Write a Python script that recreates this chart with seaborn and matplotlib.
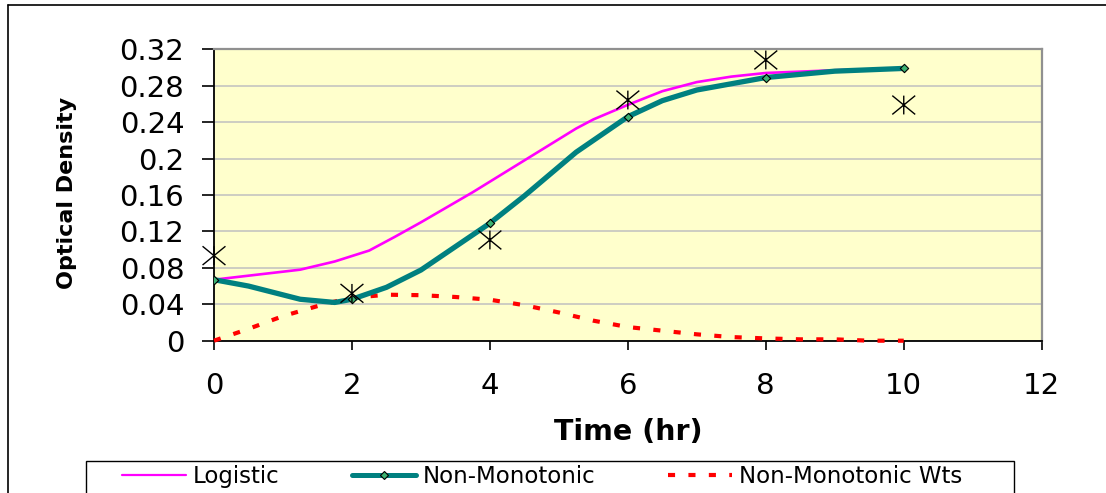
import numpy as np
import pandas as pd
import matplotlib
matplotlib.use("Agg")
import matplotlib.pyplot as plt
from matplotlib.path import Path
from matplotlib.lines import Line2D
from matplotlib.patches import Rectangle
import seaborn as sns

# ---------------- data ----------------
logistic_time = [0, 1.25, 1.75, 2, 2.25, 2.62, 3, 3.75, 4.5, 5.25, 5.5, 6, 6.5, 7, 7.5, 8, 9, 10]
logistic_od = [0.067, 0.078, 0.087, 0.093, 0.099, 0.114, 0.130, 0.163, 0.198, 0.233, 0.243,
               0.259, 0.274, 0.284, 0.290, 0.294, 0.297, 0.299]

nonmono_time = [0, 0.5, 1.25, 1.75, 2, 2.5, 3, 4, 4.5, 5.25, 6, 6.5, 7, 8, 9, 10]
nonmono_od = [0.067, 0.060, 0.0455, 0.042, 0.0455, 0.0586, 0.0776, 0.129, 0.159, 0.207,
              0.246, 0.2636, 0.2753, 0.289, 0.296, 0.299]

wts_time = [0, 0.5, 1, 1.5, 1.75, 2, 2.5, 3, 3.5, 4, 4.5, 5, 5.5, 6, 6.5, 7, 7.5, 8, 8.5, 9, 9.5, 10]
wts_value = [0, 0.013, 0.027, 0.038, 0.043, 0.047, 0.0505, 0.050, 0.048, 0.045, 0.039, 0.031,
             0.022, 0.015, 0.011, 0.007, 0.004, 0.0025, 0.0015, 0.0015, 0.0, 0.0]

obs_time = [0, 2, 4, 6, 8, 10]
obs_od = [0.0934, 0.052, 0.1106, 0.2643, 0.3083, 0.2588]

x_ticks = [0, 2, 4, 6, 8, 10, 12]
y_ticks = [0, 0.04, 0.08, 0.12, 0.16, 0.2, 0.24, 0.28, 0.32]
y_tick_labels = ["0", "0.04", "0.08", "0.12", "0.16", "0.2", "0.24", "0.28", "0.32"]
series_names = ["Logistic", "Non-Monotonic", "Non-Monotonic Wts"]

# ---------------- style ----------------
sns.set_theme(style="white")
plt.rcParams["font.family"] = ["DejaVu Sans"]

W, H = 1106, 493
fig = plt.figure(figsize=(W / 100, H / 100), dpi=100)
ax = fig.add_axes([214 / W, 1 - 340.7 / H, 827.7 / W, 291.4 / H])
ax.set_facecolor("#FFFFCC")

MAGENTA = "#FF00FF"
TEAL = "#008080"
RED = "#FF0000"

log_df = pd.DataFrame({"t": logistic_time, "od": logistic_od})
nm_df = pd.DataFrame({"t": nonmono_time, "od": nonmono_od})
w_df = pd.DataFrame({"t": wts_time, "v": wts_value})
obs_df = pd.DataFrame({"t": obs_time, "od": obs_od})

sns.lineplot(data=log_df, x="t", y="od", ax=ax, color=MAGENTA, linewidth=1.9,
             estimator=None, sort=False, zorder=3)
sns.lineplot(data=w_df, x="t", y="v", ax=ax, color=RED, linewidth=3.0,
             linestyle=(0, (1.7, 3.2)), estimator=None, sort=False, zorder=3, clip_on=False)
sns.lineplot(data=nm_df, x="t", y="od", ax=ax, color=TEAL, linewidth=3.8,
             estimator=None, sort=False, zorder=4)
mk_df = nm_df[nm_df["t"].isin(obs_time)]
sns.scatterplot(data=mk_df, x="t", y="od", ax=ax, marker="D", s=18, color="#3CB371",
                edgecolor="black", linewidth=0.8, zorder=5)

star = Path([(-0.5, -0.41), (0.5, 0.41), (-0.5, 0.41), (0.5, -0.41), (0, -0.41), (0, 0.41)],
            [Path.MOVETO, Path.LINETO, Path.MOVETO, Path.LINETO, Path.MOVETO, Path.LINETO])
sns.scatterplot(data=obs_df, x="t", y="od", ax=ax, marker=star, s=16.5 ** 2,
                facecolor="none", edgecolor="black", linewidth=1.0, zorder=6, clip_on=False)

# ---------------- axes ----------------
ax.set_xlim(0, 12)
ax.set_ylim(0, 0.32)
ax.set_xticks(x_ticks)
ax.set_xticklabels([str(v) for v in x_ticks])
ax.set_yticks(y_ticks)
ax.set_yticklabels(y_tick_labels)
ax.yaxis.grid(True, color="#C0C0C0", linewidth=1.1)
ax.xaxis.grid(False)
ax.set_axisbelow(True)

for s in ["left", "bottom"]:
    ax.spines[s].set_color("black")
    ax.spines[s].set_linewidth(1.3)
for s in ["top", "right"]:
    ax.spines[s].set_color("#909090")
    ax.spines[s].set_linewidth(1.6)

ax.tick_params(axis="y", direction="out", length=8.4, width=1.2, pad=13.0,
               labelsize=21, colors="black", left=True)
ax.tick_params(axis="x", direction="out", length=6.5, width=1.2, pad=16,
               labelsize=21, colors="black", bottom=True)

ax.set_xlabel("Time (hr)", fontsize=20.5, fontweight="bold", color="black")
ax.xaxis.set_label_coords(0.5, (340.7 - 432) / 291.4)
ax.xaxis.label.set_va("center")
ax.set_ylabel("Optical Density", fontsize=16, fontweight="bold", color="black")
ax.yaxis.set_label_coords((67 - 214) / 827.7, (340.7 - 192.5) / 291.4)
ax.yaxis.label.set_va("center")

# ---------------- outer frame ----------------
fig.add_artist(Line2D([8 / W, 1.0], [1 - 5 / H, 1 - 5 / H], transform=fig.transFigure,
                      color="black", linewidth=1.2))
fig.add_artist(Line2D([8 / W, 8 / W], [0, 1 - 5 / H], transform=fig.transFigure,
                      color="black", linewidth=1.2))

# ---------------- legend ----------------
fig.add_artist(Rectangle((86 / W, -0.05), 928 / W, 0.05 + (493 - 461) / H,
                         transform=fig.transFigure, facecolor="white",
                         edgecolor="black", linewidth=1.0, zorder=1))
handles = [
    Line2D([], [], color=MAGENTA, linewidth=1.6),
    Line2D([], [], color=TEAL, linewidth=3.6, marker="D", markersize=4,
           markerfacecolor="#3CB371", markeredgecolor="black", markeredgewidth=0.8),
    Line2D([], [], color=RED, linewidth=3.0, linestyle=(0, (1.7, 3.2))),
]
leg = fig.legend(handles, series_names, loc="upper left",
                 bbox_to_anchor=(122 / W, 0.0, (962 - 122) / W, 1 - 465 / H),
                 mode="expand", ncol=3, frameon=False, fontsize=16.5, borderpad=0,
                 handlelength=2.8, handletextpad=0.3, numpoints=1, borderaxespad=0)
leg.set_zorder(2)
for t in leg.get_texts():
    t.set_color("black")

fig.savefig("out.png", dpi=100)
